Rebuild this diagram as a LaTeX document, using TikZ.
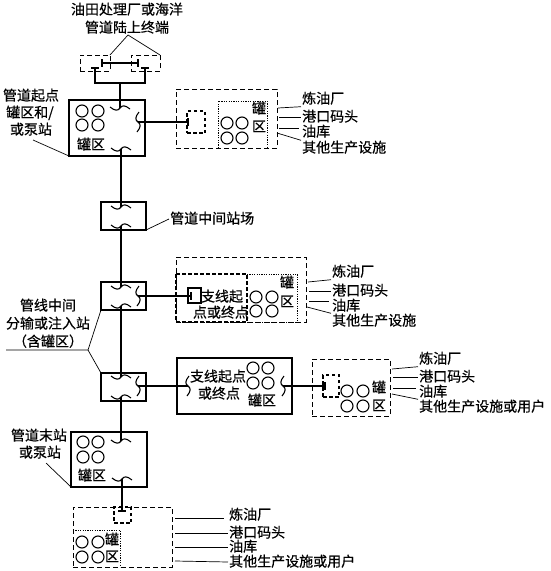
\documentclass[tikz,border=0pt]{standalone}
\usepackage{fontspec}
\setmainfont[FakeBold=0.5]{Noto Sans CJK SC}
\begin{document}
\begin{tikzpicture}[x=1pt,y=-1pt,
  solidbox/.style={draw,line width=1.5pt,rectangle,inner sep=0pt,outer sep=0pt},
  thinbox/.style={draw,line width=0.8pt,dash pattern=on 5pt off 3pt,rectangle,inner sep=0pt,outer sep=0pt},
  tagbox/.style={draw,line width=1.3pt,dash pattern=on 3.5pt off 2.5pt,rectangle,inner sep=0pt,outer sep=0pt},
  branchbox/.style={draw,line width=1.1pt,rectangle,inner sep=0pt,outer sep=0pt},
  pipe/.style={line width=1.4pt},
  leader/.style={line width=0.7pt},
  dotline/.style={line width=0.8pt,dash pattern=on 1.2pt off 1.2pt},
  thickdash/.style={line width=1.2pt,dash pattern=on 4pt off 2pt},
  tank/.style={line width=1.1pt},
  txt/.style={font=\fontsize{14}{14}\selectfont,inner sep=1pt,text height=11pt,text depth=2pt},
  lab/.style={txt,anchor=west},
  htilde/.pic={\draw[line width=1.1pt] (-10,-1) .. controls (-5,3) and (-2,3) .. (0,0) .. controls (2,-3) and (5,-3) .. (10,1);},
  vtilde/.pic={\draw[line width=1.1pt] (1,-10) .. controls (-3,-5) and (-3,-2) .. (0,0) .. controls (3,2) and (3,5) .. (-1,10);},
  endbar/.pic={\draw[line width=1.4pt] (-4,0) -- (4,0);},
  sidebar/.pic={\draw[line width=1.4pt] (0,-4) -- (0,4);}
]
\newcommand{\bx}[6]{\node[#2,anchor=north west,minimum width={(#5-#3)*1pt},minimum height={(#6-#4)*1pt}] (#1) at (#3,#4) {};}
\newcommand{\tanks}[4]{\foreach \cx in {#1,#2}\foreach \cy in {#3,#4}\draw[tank] (\cx,\cy) circle (6);}
\newcommand{\lead}[4]{\coordinate (#1) at (#2,#3); \draw[leader] (#1) -- (#4);}
\useasboundingbox (0,0) rectangle (550,571);

% top
\node[txt] (title1) at (127,10) {油田处理厂或海洋};
\node[txt] (title2) at (127,28) {管道陆上终端};
\bx{srcL}{thinbox}{80}{55}{110}{71}
\bx{srcR}{thinbox}{131}{55}{160}{71}
\coordinate (apex) at (128,35);
\draw[leader] (srcL.north east) -- (apex) -- (srcR.north east);
\coordinate (pL) at (102,63); \coordinate (pR) at (138,63);
\draw[pipe] (pL) -- (pR);
\pic at (pL) {sidebar}; \pic at (pR) {sidebar};
\coordinate (bL) at (95,68); \coordinate (bR) at (145,68);
\pic at (bL) {endbar}; \pic at (bR) {endbar};

% origin station
\bx{A}{solidbox}{69}{100}{145}{156}
\tanks{82}{98}{111}{125}
\node[txt] (Alab) at (91,145) {罐区};
\coordinate (A1) at (120,108); \coordinate (A2) at (121,149); \coordinate (A3) at (138,122);
\pic at (A1) {htilde}; \pic at (A2) {htilde}; \pic at (A3) {vtilde};
\coordinate (J) at (120,83);
\draw[pipe] (bL) |- (J) -| (bR);
\draw[pipe] (J) -- (A1);
\node[txt] (t1) at (31,96) {管道起点};
\node[txt] (t2) at (30,113) {罐区和/};
\node[txt] (t3) at (31,130) {或泵站};
\lead{Al}{33}{140}{A.south west}

% branch 1
\bx{B}{thinbox}{176}{89}{277}{148}
\bx{Bt}{tagbox}{187}{111}{205}{133}
\coordinate (Bp) at (188,122);
\draw[pipe] (A3) -- (Bp);
\pic at (Bp) {sidebar};
\draw[dotline] (218,148) -- (218,101) -- (267,101) -- (267,148);
\tanks{227}{242}{123}{138}
\node[txt] (B1) at (259,109) {罐};
\node[txt] (B2) at (259,127) {区};
\node[lab] (Bl1) at (301,99) {炼油厂};
\node[lab] (Bl2) at (301,117) {港口码头};
\node[lab] (Bl3) at (301,132) {油库};
\node[lab] (Bl4) at (301,148) {其他生产设施};
\lead{Ba}{278}{108}{Bl1.south west}
\lead{Bb}{279}{117}{Bl2.west}
\lead{Bc}{279}{128}{299,128}
\lead{Bd}{277}{133}{Bl4.north west}

% intermediate
\bx{C}{solidbox}{101}{202}{146}{230}
\coordinate (C1) at (121,207); \coordinate (C2) at (121,226);
\pic at (C1) {htilde}; \pic at (C2) {htilde};
\draw[pipe] (A2) -- (C1);
\node[lab] (Cl) at (169,219) {管道中间站场};
\lead{Cc}{146}{230}{Cl.west}

% mid station 1
\bx{D}{solidbox}{101}{282}{146}{310}
\coordinate (D1) at (121,287); \coordinate (D2) at (121,306); \coordinate (D3) at (138,296);
\pic at (D1) {htilde}; \pic at (D2) {htilde}; \pic at (D3) {vtilde};
\draw[pipe] (C2) -- (D1);
\bx{E}{thinbox}{176}{257}{306}{322}
\draw[thickdash] (176,274) -- (247,274) -- (247,322) -- (176,322) -- cycle;
\draw[dotline] (247,274) -- (297,274) -- (297,322) -- (247,322);
\bx{Et}{branchbox}{188}{288}{201}{303}
\coordinate (Ep) at (191,296);
\draw[pipe] (D3) -- (Ep);
\pic at (Ep) {sidebar};
\tanks{256}{272}{297}{311}
\node[txt] (E1) at (222,297) {支线起};
\node[txt] (E2) at (221,313) {点或终点};
\node[txt] (E3) at (287,283) {罐};
\node[txt] (E4) at (287,302) {区};
\node[lab] (El1) at (331,272) {炼油厂};
\node[lab] (El2) at (331,291) {港口码头};
\node[lab] (El3) at (331,306) {油库};
\node[lab] (El4) at (331,321) {其他生产设施};
\lead{Ea}{308}{282}{El1.south west}
\lead{Eb}{309}{291}{El2.west}
\lead{Ec}{309}{301}{329,301}
\lead{Ed}{307}{307}{El4.north west}

% mid station 2
\bx{F}{solidbox}{101}{373}{146}{401}
\coordinate (F1) at (121,377); \coordinate (F2) at (121,397); \coordinate (F3) at (138,386);
\pic at (F1) {htilde}; \pic at (F2) {htilde}; \pic at (F3) {vtilde};
\draw[pipe] (D2) -- (F1);
\node[txt] (m1) at (48,306) {管线中间};
\node[txt] (m2) at (48,324) {分输或注入站};
\node[txt] (m3) at (48,342) {（含罐区）};
\coordinate (mfork) at (88,350); \coordinate (mstart) at (6,350);
\draw[leader] (mstart) -- (mfork) -- (D.south west);
\draw[leader] (mfork) -- (F.north west);

% branch solid
\bx{G}{solidbox}{177}{358}{292}{414}
\coordinate (G1) at (188,386); \coordinate (G2) at (283,386);
\pic at (G1) {vtilde}; \pic at (G2) {vtilde};
\draw[pipe] (F3) -- (G1);
\tanks{253}{268}{368}{383}
\node[txt] (G3) at (218,377) {支线起点};
\node[txt] (G4) at (219,394) {或终点};
\node[txt] (G5) at (262,401) {罐区};
\bx{H}{thinbox}{312}{359}{390}{416}
\bx{Ht}{tagbox}{323}{375}{339}{397}
\coordinate (Hp) at (325,386);
\draw[pipe] (G2) -- (Hp);
\pic at (Hp) {sidebar};
\tanks{347}{363}{391}{406}
\node[txt] (H1) at (379,388) {罐};
\node[txt] (H2) at (379,406) {区};
\node[lab] (Hl1) at (418,359) {炼油厂};
\node[lab] (Hl2) at (418,377) {港口码头};
\node[lab] (Hl3) at (418,392) {油库};
\node[lab] (Hl4) at (418,407) {其他生产设施或用户};
\lead{Ha}{392}{369}{Hl1.south west}
\lead{Hb}{393}{377}{Hl2.west}
\lead{Hc}{393}{388}{416,388}
\lead{Hd}{392}{394}{Hl4.north west}

% terminal
\bx{K}{solidbox}{71}{432}{147}{487}
\tanks{83}{98}{442}{457}
\node[txt] (K1) at (92,476) {罐区};
\coordinate (K2) at (121,441); \coordinate (K3) at (122,479);
\pic at (K2) {htilde}; \pic at (K3) {htilde};
\draw[pipe] (F2) -- (K2);
\node[txt] (k1) at (39,436) {管道末站};
\node[txt] (k2) at (40,453) {或泵站};
\lead{Kl}{46}{463}{K.south west}

% final
\bx{L}{thinbox}{73}{507}{172}{567}
\bx{Lt}{tagbox}{114}{507}{131}{523}
\coordinate (Lp) at (122,511);
\draw[pipe] (K3) -- (Lp);
\pic at (Lp) {endbar};
\draw[dotline] (73,530) -- (120,530) -- (120,567);
\tanks{82}{98}{542}{557}
\node[txt] (L1) at (112,540) {罐};
\node[txt] (L2) at (112,557) {区};
\node[lab] (Ll1) at (228,515) {炼油厂};
\node[lab] (Ll2) at (228,533) {港口码头};
\node[lab] (Ll3) at (228,547) {油库};
\node[lab] (Ll4) at (228,562) {其他生产设施或用户};
\lead{La}{175}{518}{224,518}
\lead{Lb}{175}{533}{Ll2.west}
\lead{Lc}{175}{547}{Ll3.west}
\lead{Ld}{175}{561}{Ll4.west}
\end{tikzpicture}
\end{document}
